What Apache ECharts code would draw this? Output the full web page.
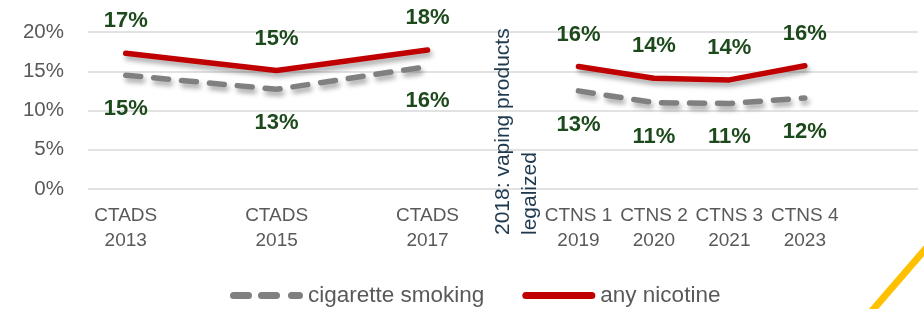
<!DOCTYPE html>
<html>
<head>
<meta charset="utf-8">
<script src="https://cdn.jsdelivr.net/npm/echarts@6/dist/echarts.min.js"></script>
<style>
  html, body { margin: 0; padding: 0; background: #fff; }
  #main { width: 924px; height: 309px; }
</style>
</head>
<body>
<div id="main"></div>
<script>
"use strict"

// survey periods on the x axis (2014/2016 are empty slots, 2018 is the legalization marker)
const periods = ['2013', '2014', '2015', '2016', '2017', '2018', '2019', '2020', '2021', '2023', 'end'];
const tickLabels = ['CTADS\n2013', '', 'CTADS\n2015', '', 'CTADS\n2017', '', 'CTNS 1\n2019', 'CTNS 2\n2020', 'CTNS 3\n2021', 'CTNS 4\n2023', ''];
const breakPeriod = '2018';
const markerText = '2018: vaping products\nlegalized';

// prevalence in %
const cigaretteSmoking = [14.5, null, 12.7, null, 15.6, null, 12.5, 11.0, 10.9, 11.6, null];
const anyNicotine = [17.3, null, 15.1, null, 17.7, null, 15.6, 14.1, 13.9, 15.7, null];

const yTicks = [0, 5, 10, 15, 20];

// keep surveyed points; put an empty value at the break so the line splits there
function toSeriesData(values) {
    var out = [];
    for (var i = 0; i < periods.length; i++) {
        if (values[i] !== null) {
            out.push([i, values[i]]);
        } else if (periods[i] === breakPeriod) {
            out.push([i, '-']);
        }
    }
    return out;
}

const labelColor = '#1d4a1c';
const shadow = {
    shadowColor: 'rgba(0,0,0,0.35)',
    shadowBlur: 5,
    shadowOffsetX: 2,
    shadowOffsetY: 4,
};
// legend icons: three rounded dashes / one rounded bar
const dashIcon = 'path://M3.5,0H18.5A3.5,3.5,0,0,1,18.5,7H3.5A3.5,3.5,0,0,1,3.5,0Z' +
    'M31.5,0H46.5A3.5,3.5,0,0,1,46.5,7H31.5A3.5,3.5,0,0,1,31.5,0Z' +
    'M61.5,0H69.5A3.5,3.5,0,0,1,69.5,7H61.5A3.5,3.5,0,0,1,61.5,0Z';
const barIcon = 'path://M3.5,0H69.5A3.5,3.5,0,0,1,69.5,7H3.5A3.5,3.5,0,0,1,3.5,0Z';

const chart = echarts.init(document.getElementById('main'), null, { renderer: 'canvas' });

const option = {
    animation: false,
    textStyle: { fontFamily: 'Liberation Sans, Arial, sans-serif' },
    grid: { left: 88, right: 6, top: 32, bottom: 120, containLabel: false },
    xAxis: {
        type: 'category',
        data: periods,
        axisLine: { show: false },
        axisTick: { show: false },
        axisLabel: {
            interval: 0,
            margin: 14,
            color: '#595959',
            fontSize: 19,
            lineHeight: 25,
            formatter: function (value, idx) { return tickLabels[idx]; },
        },
    },
    yAxis: {
        type: 'value',
        min: yTicks[0],
        max: yTicks[yTicks.length - 1],
        interval: yTicks[1] - yTicks[0],
        axisLine: { show: false },
        axisTick: { show: false },
        axisLabel: {
            margin: 24,
            color: '#595959',
            fontSize: 20.5,
            formatter: '{value}%',
        },
        splitLine: { lineStyle: { color: '#d9d9d9', width: 1.5 } },
    },
    legend: {
        data: [
            { name: 'cigarette smoking', icon: dashIcon, itemStyle: { color: '#808080' } },
            { name: 'any nicotine', icon: barIcon, itemStyle: { color: '#c00000' } },
        ],
        left: 225,
        top: 279,
        itemWidth: 73,
        itemHeight: 7,
        itemGap: 38,
        textStyle: { color: '#595959', fontSize: 22.5 },
    },
    series: [
        {
            name: 'cigarette smoking',
            type: 'line',
            symbol: 'circle',
            symbolSize: 0,
            data: toSeriesData(cigaretteSmoking),
            lineStyle: Object.assign({ color: '#808080', width: 5.5, type: [15, 13], cap: 'round' }, shadow),
            itemStyle: { color: '#808080' },
            label: {
                show: true,
                position: 'bottom',
                distance: 23,
                color: labelColor,
                fontSize: 22,
                fontWeight: 'bold',
                formatter: function (p) { return Math.round(p.value[1]) + '%'; },
            },
        },
        {
            name: 'any nicotine',
            type: 'line',
            symbol: 'circle',
            symbolSize: 0,
            data: toSeriesData(anyNicotine),
            lineStyle: Object.assign({ color: '#c00000', width: 5.5, cap: 'round' }, shadow),
            itemStyle: { color: '#c00000' },
            label: {
                show: true,
                position: 'top',
                distance: 21,
                color: labelColor,
                fontSize: 22,
                fontWeight: 'bold',
                formatter: function (p) { return Math.round(p.value[1]) + '%'; },
            },
        },
    ],
};
chart.setOption(option);

// vertical note at the 2018 slot, anchored through the axes
var markX = chart.convertToPixel({ xAxisIndex: 0 }, breakPeriod);
var baseY = chart.convertToPixel({ yAxisIndex: 0 }, 0);
chart.setOption({
    graphic: [
        {
            type: 'text',
            x: markX - 13.5,
            y: baseY + 46,
            rotation: Math.PI / 2,
            style: {
                text: markerText,
                fill: '#1f3a4f',
                font: '21px Liberation Sans, Arial, sans-serif',
                lineHeight: 27,
                align: 'left',
                verticalAlign: 'top',
            },
        },
        {
            type: 'line',
            shape: { x1: 871, y1: 312, x2: 928, y2: 246 },
            style: { stroke: '#ffc000', lineWidth: 7 },
        },
    ],
});
</script>
</body>
</html>
